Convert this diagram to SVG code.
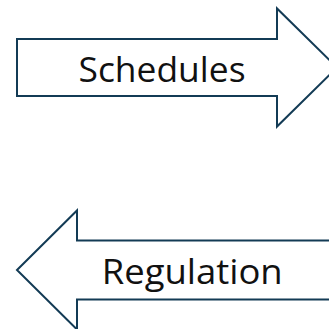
<svg xmlns="http://www.w3.org/2000/svg" width="329" height="329" viewBox="0 0 329 329">
  <style>
    .block { fill: #ffffff; stroke: #133b55; stroke-width: 2; stroke-linejoin: miter; }
    .label { font-family: "Open Sans", "Noto Sans", sans-serif; font-size: 34px; fill: #111111; text-anchor: middle; }
  </style>
  <rect width="329" height="329" fill="#ffffff"/>
  <g id="schedules">
    <polygon class="block" points="17,39 277,39 277,8.5 337,67.5 277,126.5 277,96 17,96"/>
    <text class="label" x="162" y="82.3" textLength="167" lengthAdjust="spacingAndGlyphs">Schedules</text>
  </g>
  <g id="regulation">
    <polygon class="block" points="17,270 77,210.5 77,240.5 345,240.5 345,299.5 77,299.5 77,329.5"/>
    <text class="label" x="192.2" y="284.3" textLength="181" lengthAdjust="spacingAndGlyphs">Regulation</text>
  </g>
</svg>
